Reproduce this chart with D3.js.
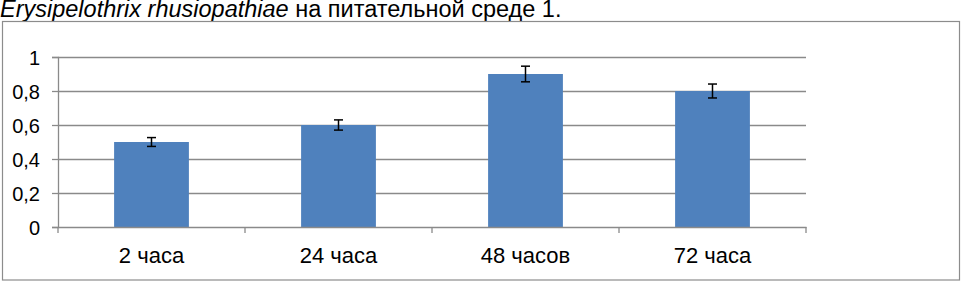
<!DOCTYPE html>
<html>
<head>
<meta charset="utf-8">
<script src="https://cdn.jsdelivr.net/npm/d3@7"></script>
<style>
  body { margin: 0; background: #fff; }
  text { font-family: Arial, "Liberation Sans", sans-serif; }
</style>
</head>
<body>
<div id="chart"></div>
<script>
// Data
const categories = ["2 часа", "24 часа", "48 часов", "72 часа"];
const values = [0.5, 0.6, 0.9, 0.8];
const errors = [0.026, 0.03, 0.046, 0.041];
const yTicks = [0, 0.2, 0.4, 0.6, 0.8, 1];

const W = 962, H = 282;
const margin = { top: 57, right: 156, bottom: 55, left: 58 };
const width = W - margin.left - margin.right;
const height = H - margin.top - margin.bottom;

const svg = d3.select("#chart")
  .append("svg")
  .attr("width", W)
  .attr("height", H);

// caption line sitting right at the top edge
svg.append("text")
  .attr("x", 0)
  .attr("y", 17)
  .attr("font-size", 23.5)
  .attr("fill", "#000")
  .call(t => {
    t.append("tspan").attr("font-style", "italic").text("Erysipelothrix rhusiopathiae");
    t.append("tspan").text(" на питательной среде 1.");
  });

// outer chart frame
svg.append("rect")
  .attr("x", 2.5).attr("y", 21.5)
  .attr("width", 957).attr("height", 258.5)
  .attr("fill", "none")
  .attr("stroke", "#8c8c8c")
  .attr("stroke-width", 1.2);

const g = svg.append("g")
  .attr("transform", `translate(${margin.left}, ${margin.top})`);

const x = d3.scaleBand()
  .domain(categories)
  .range([0, width])
  .paddingInner(0.6)
  .paddingOuter(0.3);

const y = d3.scaleLinear()
  .domain([0, 1])
  .range([height, 0]);

// gridlines
g.append("g")
  .selectAll("line")
  .data(yTicks.filter(d => d > 0))
  .join("line")
  .attr("x1", 0).attr("x2", width)
  .attr("y1", d => Math.round(y(d)) + 0.5)
  .attr("y2", d => Math.round(y(d)) + 0.5)
  .attr("stroke", "#8a8a8a")
  .attr("stroke-width", 1.3);

// y axis
const yAxis = d3.axisLeft(y)
  .tickValues(yTicks)
  .tickSize(6)
  .tickPadding(12)
  .tickFormat(d => String(d).replace(".", ","));

g.append("g")
  .attr("class", "y-axis")
  .call(yAxis)
  .call(a => a.select(".domain").attr("stroke", "#8a8a8a").attr("stroke-width", 1.3))
  .call(a => a.selectAll(".tick line").attr("stroke", "#8a8a8a").attr("stroke-width", 1.3))
  .call(a => a.selectAll(".tick text").attr("font-size", 20).attr("fill", "#000").attr("dy", "0.36em"));

// bars
g.append("g")
  .selectAll("rect")
  .data(values)
  .join("rect")
  .attr("x", (d, i) => x(categories[i]))
  .attr("y", d => y(d))
  .attr("width", x.bandwidth())
  .attr("height", d => height - y(d))
  .attr("fill", "#4f81bd");

// x axis
const xAxis = d3.axisBottom(x).tickSize(0);
const xg = g.append("g")
  .attr("class", "x-axis")
  .attr("transform", `translate(0, ${height})`)
  .call(xAxis);
xg.select(".domain").attr("stroke", "#8a8a8a").attr("stroke-width", 1.3);
xg.selectAll(".tick text")
  .attr("font-size", 22)
  .attr("fill", "#000")
  .attr("y", 36)
  .attr("dy", null);

// category boundary ticks
xg.append("g")
  .selectAll("line")
  .data(d3.range(categories.length + 1))
  .join("line")
  .attr("x1", i => i * x.step()).attr("x2", i => i * x.step())
  .attr("y1", 0).attr("y2", 6)
  .attr("stroke", "#8a8a8a")
  .attr("stroke-width", 1.3);

// error bars
const eb = g.append("g")
  .selectAll("g")
  .data(values)
  .join("g")
  .attr("transform", (d, i) => `translate(${x(categories[i]) + x.bandwidth() / 2}, 0)`);

eb.append("line")
  .attr("y1", (d, i) => y(d + errors[i]))
  .attr("y2", (d, i) => y(d - errors[i]))
  .attr("stroke", "#000").attr("stroke-width", 1.5);

eb.append("line")
  .attr("x1", -4.5).attr("x2", 4.5)
  .attr("y1", (d, i) => y(d + errors[i]))
  .attr("y2", (d, i) => y(d + errors[i]))
  .attr("stroke", "#000").attr("stroke-width", 1.5);

eb.append("line")
  .attr("x1", -4.5).attr("x2", 4.5)
  .attr("y1", (d, i) => y(d - errors[i]))
  .attr("y2", (d, i) => y(d - errors[i]))
  .attr("stroke", "#000").attr("stroke-width", 1.5);
</script>
</body>
</html>
